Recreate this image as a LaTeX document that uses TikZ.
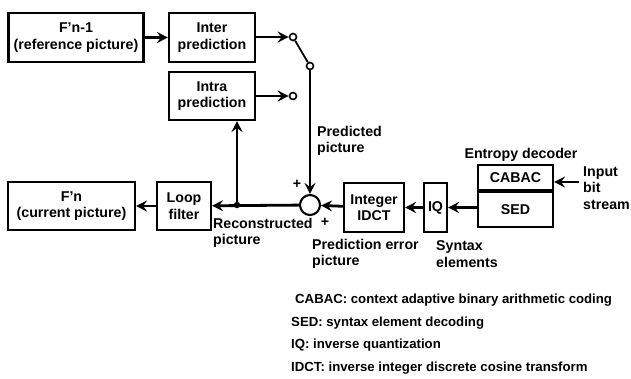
\documentclass[tikz,border=0pt]{standalone}
\usepackage{fontspec}
\setmainfont{Liberation Sans}
\usepackage{tikz}
\usetikzlibrary{arrows.meta,positioning,calc}

\begin{document}
\begin{tikzpicture}[x=1pt, y=-1pt, font=\fontsize{14.2}{16.5}\selectfont\bfseries,
  block/.style={draw, line width=2.1pt, align=center, inner sep=0pt},
  contact/.style={circle, draw, fill=white, line width=1.6pt, minimum size=7pt, inner sep=0pt},
  note/.style={align=left, inner sep=0pt, anchor=west},
  legend/.style={anchor=west, inner sep=0pt, font=\fontsize{13.2}{15}\selectfont\bfseries},
  line/.style={-{Stealth[length=11pt, width=11pt, inset=4pt]}, line width=2.8pt},
  wire/.style={line width=2.8pt}]

\useasboundingbox (0,0) rectangle (631,378);

\node[block, minimum width=135pt, minimum height=49pt] (fprev) at (76,37.5) {F'n-1\\(reference picture)};
\node[block, minimum width=86pt, minimum height=49pt] (inter) at (212,37.5) {Inter\\prediction};
\node[block, minimum width=86pt, minimum height=48pt] (intra) at (212,96) {Intra\\prediction};
\node[block, minimum width=127pt, minimum height=48pt] (fcur) at (71.5,206) {F'n\\(current picture)};
\node[block, minimum width=54pt, minimum height=48pt] (loop) at (184,206) {Loop\\filter};
\node[circle, draw, line width=2.1pt, minimum size=20pt, inner sep=0pt] (sum) at (310,205) {};
\node[block, minimum width=60pt, minimum height=49pt] (idct) at (374,207.5) {Integer\\IDCT};
\node[block, minimum width=23pt, minimum height=49pt] (iq) at (435.5,207.5) {IQ};
\node[block, minimum width=75pt, minimum height=25pt] (cabac) at (515.5,177.5) {CABAC};
\node[block, minimum width=75pt, minimum height=35pt, below=0pt of cabac] (sed) {SED};

\node[contact] (sw1) at (293,37) {};
\node[contact] (sw2) at (310,66) {};
\node[contact] (sw3) at (293,96) {};
\coordinate (junc) at (237,205);
\coordinate (bitin) at (579,182);

\draw[line] (fprev) -- (inter);
\draw[line] (inter.east |- sw1) -- (sw1);
\draw[line] (intra.east |- sw3) -- (sw3);
\draw[line width=1.8pt] (sw1) -- (sw2);
\draw[line] (sw2) -- (sum);
\draw[line] (idct) -- (sum);
\draw[line] (iq) -- (idct);
\draw[line] (sed.west |- iq) -- (iq);
\draw[line] (bitin) -- (cabac.east |- bitin);
\draw[line] (sum) -- (loop);
\draw[line] (loop) -- (fcur);
\draw[line] (junc) -- (junc |- intra.south);
\fill (junc) circle (3.2pt);

\node[note] (pred) at (317,141) {Predicted\\picture};
\node[note] (recon) at (213,233) {Reconstructed\\picture};
\node[note] (errpic) at (312,254) {Prediction error\\picture};
\node[note] (syntax) at (436,254) {Syntax\\elements};
\node[inner sep=0pt] (entropy) at (521,155) {Entropy decoder};
\node[note] (input) at (583,188) {Input\\bit\\stream};
\node[inner sep=0pt] (plus1) at (297,184) {+};
\node[inner sep=0pt] (plus2) at (325,222) {+};

\node[legend] (leg1) at (295,300) {CABAC: context adaptive binary arithmetic coding};
\node[legend] (leg2) at (291,323) {SED: syntax element decoding};
\node[legend] (leg3) at (291,345) {IQ: inverse quantization};
\node[legend] (leg4) at (291,368) {IDCT: inverse integer discrete cosine transform};
\end{tikzpicture}
\end{document}
